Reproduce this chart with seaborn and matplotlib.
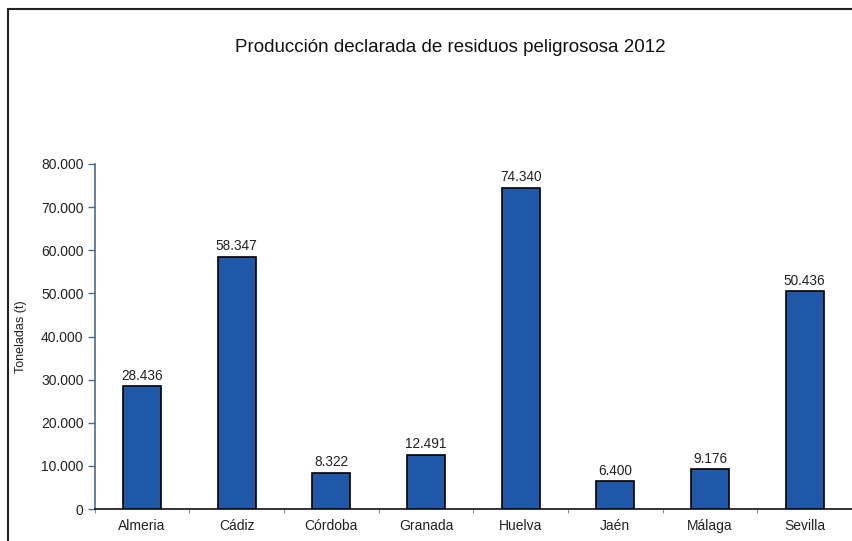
import numpy as np
import pandas as pd
import matplotlib.pyplot as plt
import seaborn as sns
from matplotlib.lines import Line2D
from matplotlib.ticker import FuncFormatter

provincias = ["Almeria", "Cádiz", "Córdoba", "Granada", "Huelva", "Jaén", "Málaga", "Sevilla"]
toneladas = [28436, 58347, 8322, 12491, 74340, 6400, 9176, 50436]
etiquetas = ["28.436", "58.347", "8.322", "12.491", "74.340", "6.400", "9.176", "50.436"]
yticks = [0, 10000, 20000, 30000, 40000, 50000, 60000, 70000, 80000]

df = pd.DataFrame({"Provincia": provincias, "Toneladas": toneladas})

sns.set_style("white")
plt.rcParams["font.family"] = ["Liberation Sans", "DejaVu Sans"]

fig = plt.figure(figsize=(8.52, 5.41), dpi=100)
ax = fig.add_axes([0.111, 0.059, 0.889, 0.638])

sns.barplot(data=df, x="Provincia", y="Toneladas", color="#1f58a8", width=0.4,
            edgecolor="black", linewidth=1.2, saturation=1, ax=ax)

# data labels above the bars
for i, val in enumerate(toneladas):
    ax.text(i, val + 900, etiquetas[i], ha="center", va="bottom", fontsize=9.8, color="#222222")

ax.set_ylim(0, 80000)
ax.set_xlim(-0.5, 7.5)
ax.set_yticks(yticks)
ax.yaxis.set_major_formatter(FuncFormatter(lambda v, p: "0" if v == 0 else f"{int(v):,}".replace(",", ".")))
ax.set_xticks(np.arange(-0.5, 8, 1), minor=True)
ax.tick_params(axis="x", which="major", bottom=True, length=0, labelsize=10, pad=7, colors="#222222")
ax.tick_params(axis="x", which="minor", bottom=True, length=3, width=0.6, direction="out", color="#777777")
ax.tick_params(axis="y", left=True, length=5, width=1, direction="out", labelsize=10, pad=3,
               colors="#4a6e8a", labelcolor="#222222")

for s in ["top", "right"]:
    ax.spines[s].set_visible(False)
ax.spines["left"].set_color("#4a6e8a")
ax.spines["left"].set_linewidth(1.2)
ax.spines["bottom"].set_color("#111111")
ax.spines["bottom"].set_linewidth(1.2)

ax.set_xlabel("")
ax.set_ylabel("Toneladas (t)", fontsize=9, color="#222222", labelpad=10)

fig.text(0.529, 0.912, "Producción declarada de residuos peligrososa 2012",
         ha="center", va="center", fontsize=13.5, color="#111111")

# frame of the original document
fig.add_artist(Line2D([0.0095, 0.0095], [0.0, 0.984], color="#222222", linewidth=1.5))
fig.add_artist(Line2D([0.0095, 1.0], [0.984, 0.984], color="#222222", linewidth=1.5))

plt.savefig("out.png", dpi=100)
